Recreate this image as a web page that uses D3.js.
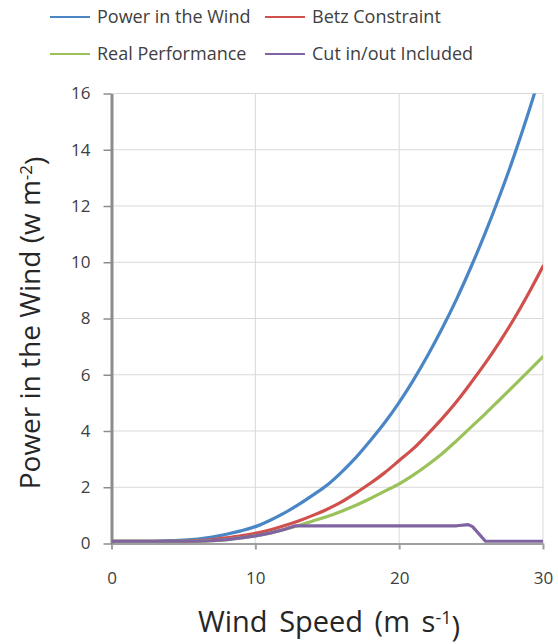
<!DOCTYPE html>
<html>
<head>
<meta charset="utf-8">
<script src="https://cdn.jsdelivr.net/npm/d3@7"></script>
<style>
  html, body { margin: 0; padding: 0; background: #fff; }
  svg { display: block; font-family: "Open Sans", sans-serif; }
</style>
</head>
<body>
<svg id="chart" width="558" height="644"></svg>
<script>
// ---- data ----
const speeds = d3.range(0, 31);
const powerWind = [0.08,0.08,0.08,0.08,0.1,0.12,0.16,0.23,0.33,0.45,0.6,0.82,1.08,1.38,1.72,2.08,2.54,3.06,3.66,4.3,5.02,5.82,6.7,7.66,8.7,9.84,11.06,12.38,13.8,15.34,17.0];
const betz = [0.08,0.08,0.08,0.08,0.08,0.08,0.1,0.14,0.2,0.27,0.36,0.48,0.63,0.8,1.0,1.22,1.48,1.8,2.14,2.52,2.95,3.38,3.9,4.45,5.05,5.72,6.42,7.18,8.0,8.9,9.86];
const realPerf = [0.08,0.08,0.08,0.08,0.08,0.08,0.08,0.1,0.14,0.2,0.27,0.37,0.5,0.64,0.8,0.96,1.15,1.36,1.6,1.86,2.12,2.44,2.8,3.2,3.66,4.14,4.62,5.12,5.62,6.13,6.64];
const cutSpeeds = [0,1,2,3,4,5,6,7,8,9,10,11,12,12.8,24,24.8,25.1,26,27,28,29,30];
const cutInOut = [0.08,0.08,0.08,0.08,0.08,0.08,0.08,0.1,0.14,0.2,0.27,0.37,0.5,0.63,0.63,0.67,0.6,0.08,0.08,0.08,0.08,0.08];
const xTicks = [0, 10, 20, 30];
const yTicks = [0, 2, 4, 6, 8, 10, 12, 14, 16];
const seriesNames = ["Power in the Wind", "Betz Constraint", "Real Performance", "Cut in/out Included"];
const seriesColors = ["#4A86C5", "#D0504D", "#9BC15A", "#8064A2"];

// ---- layout ----
const svg = d3.select("#chart");
const x = d3.scaleLinear().domain([0, 30]).range([111.5, 543]);
const y = d3.scaleLinear().domain([0, 16]).range([543.5, 93.5]);

// gridlines
const grid = svg.append("g");
grid.selectAll("line.h").data(yTicks.filter(d => d > 0)).join("line")
  .attr("x1", x(0)).attr("x2", x(30))
  .attr("y1", d => y(d)).attr("y2", d => y(d))
  .attr("stroke", "#d9d9d9").attr("stroke-width", 1);
grid.selectAll("line.v").data(xTicks.filter(d => d > 0)).join("line")
  .attr("x1", d => x(d)).attr("x2", d => x(d))
  .attr("y1", y(0)).attr("y2", y(16))
  .attr("stroke", "#d9d9d9").attr("stroke-width", 1);

// x axis
const xAxis = svg.append("g").attr("transform", `translate(0,${y(0)})`)
  .call(d3.axisBottom(x).tickValues(xTicks).tickSizeInner(6).tickSizeOuter(0).tickPadding(22));
xAxis.select(".domain").attr("stroke", "#a0a0a0").attr("stroke-width", 2);
xAxis.selectAll(".tick line").attr("stroke", "#a0a0a0").attr("stroke-width", 2);
xAxis.selectAll(".tick text").attr("font-size", 17).attr("fill", "#404040")
  .attr("font-family", "Open Sans, sans-serif");

// y axis
const yAxis = svg.append("g").attr("transform", `translate(${x(0)},0)`)
  .call(d3.axisLeft(y).tickValues(yTicks).tickSizeInner(8).tickSizeOuter(0).tickPadding(13));
yAxis.select(".domain").attr("stroke", "#8c8c8c").attr("stroke-width", 3);
yAxis.selectAll(".tick line").attr("stroke", "#8c8c8c").attr("stroke-width", 1.5);
yAxis.selectAll(".tick text").attr("font-size", 17).attr("fill", "#404040")
  .attr("font-family", "Open Sans, sans-serif");

// clip
svg.append("clipPath").attr("id", "plotclip").append("rect")
  .attr("x", x(0)).attr("y", y(16)).attr("width", x(30) - x(0)).attr("height", y(0) - y(16) + 4);

const smooth = d3.line().x(d => x(d[0])).y(d => y(d[1])).curve(d3.curveMonotoneX);
const straight = d3.line().x(d => x(d[0])).y(d => y(d[1])).curve(d3.curveLinear);
const seriesData = [
  speeds.map((s, i) => [s, powerWind[i]]),
  speeds.map((s, i) => [s, betz[i]]),
  speeds.map((s, i) => [s, realPerf[i]]),
  cutSpeeds.map((s, i) => [s, cutInOut[i]])
];
const lines = svg.append("g").attr("clip-path", "url(#plotclip)");
seriesData.forEach((data, i) => {
  lines.append("path").datum(data)
    .attr("d", i === 3 ? straight(data) : smooth(data))
    .attr("fill", "none").attr("stroke", seriesColors[i])
    .attr("stroke-width", 3.2).attr("stroke-linejoin", "round").attr("stroke-linecap", "round");
});

// legend
const legendPos = [[50, 17], [265, 17], [50, 54], [265, 54]];
const legend = svg.append("g");
seriesNames.forEach((name, i) => {
  const [lx, ly] = legendPos[i];
  legend.append("line").attr("x1", lx).attr("x2", lx + 40).attr("y1", ly).attr("y2", ly)
    .attr("stroke", seriesColors[i]).attr("stroke-width", 2);
  legend.append("text").attr("x", lx + 47).attr("y", ly).attr("dy", "0.35em")
    .attr("font-size", 18).attr("fill", "#404040").text(name);
});

// axis titles
const yt = svg.append("text").attr("transform", `translate(40,323) rotate(-90)`)
  .attr("text-anchor", "middle").attr("font-size", 28).attr("fill", "#262626");
yt.append("tspan").text("Power in the Wind (w m");
yt.append("tspan").attr("dy", "-0.45em").attr("font-size", 17).text("-2");
yt.append("tspan").attr("dy", "0.45em").text(")");

const xt = svg.append("text").attr("x", 329).attr("y", 632)
  .attr("text-anchor", "middle").attr("font-size", 29).attr("word-spacing", 4).attr("fill", "#262626");
xt.append("tspan").text("Wind Speed (m s");
xt.append("tspan").attr("dy", "-0.45em").attr("font-size", 18).text("-1");
xt.append("tspan").attr("dy", "0.45em").text(")");
</script>
</body>
</html>
